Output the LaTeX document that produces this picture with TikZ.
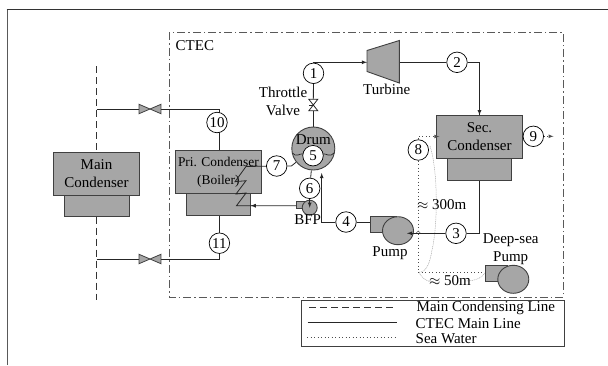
\documentclass[tikz,border=0pt]{standalone}
\usepackage{amsmath}
\usepackage{fontspec}
\setmainfont{Liberation Serif}
\usetikzlibrary{arrows}
\usetikzlibrary{backgrounds}
\usetikzlibrary{shapes.geometric}
\usetikzlibrary{decorations.markings}
\usepackage{color}
\definecolor{boxgray}{gray}{0.65}
\definecolor{edgegray}{gray}{0.25}
\tikzstyle{every node}=[inner sep=0pt, font=\fontsize{15}{18}\selectfont, align=center]
\tikzset{boxnode/.style={rectangle, draw=edgegray, fill=boxgray, line width=0.9pt}}
\tikzset{pumpnode/.style={ellipse, draw=edgegray, fill=boxgray, line width=0.9pt}}
\tikzset{numnode/.style={circle, draw=black, fill=white, minimum size=20.5pt, line width=0.7pt}}
\tikzset{ctecline/.style={line width=0.8pt, black!85}}
\tikzset{mainline/.style={line width=0.7pt, black!80, dash pattern=on 7pt off 4pt}}
\tikzset{sealine/.style={line width=0.7pt, black!70, dash pattern=on 1pt off 2.5pt}}
\tikzset{rangeline/.style={line width=0.5pt, black!35, dash pattern=on 1pt off 0.8pt}}
\tikzset{->-/.style={decoration={
      markings,
      mark=at position .3 with {\arrow{latex}}},postaction={decorate}}}
\newcommand{\valvetie}[1]{(#1.south west) -- (#1.north west) -- (#1.south east) -- (#1.north east) -- cycle}

\begin{document}
\begin{tikzpicture}[x=1pt,y=-1pt]
		\useasboundingbox (0,0) rectangle (608,365);
		\draw[line width=1pt, black!65] (7,365) -- (7,9);
		\draw[line width=1pt, black!80] (6.5,9) -- (608,9);
		\draw[line width=0.8pt, black!65, dash pattern=on 8pt off 3pt on 1.5pt off 3pt] (169,32) rectangle (563,297);
		\node[anchor=west] (ctec) at (175.5,45.5) {CTEC};
		% condensers
		\node[boxnode, minimum width=65pt, minimum height=21.5pt] (mainlow) at (96.5,205.5) {};
		\node[boxnode, minimum width=86pt, minimum height=43pt] (maincond) at (96.5,173.5) {Main\\Condenser};
		\node[boxnode, minimum width=64pt, minimum height=22pt] (prilow) at (218.7,204) {};
		\node[boxnode, minimum width=85.5pt, minimum height=42.5pt, font=\fontsize{13.4}{18}\selectfont] (pri) at (218.4,172) {Pri. Condenser\\(Boiler)};
		\node[boxnode, minimum width=64.5pt, minimum height=21.5pt] (seclow) at (479.5,169.5) {};
		\node[boxnode, minimum width=85.5pt, minimum height=42.5pt] (sec) at (479.5,137) {Sec.\\Condenser};
		% drum and turbine
		\node[circle, draw=edgegray, fill=boxgray, line width=0.9pt, minimum size=43pt] (drum) at (313.3,148.5) {};
		\node (drumtxt) at (313.3,139.5) {Drum};
		\draw[line width=0.7pt, black!85] (292.5,153) .. controls (296,158) and (300,153) .. (303,154) .. controls (307,157) and (319,157) .. (323,154) .. controls (326,153) and (330,158) .. (334,153);
		\coordinate (turbinl) at (367,62.3);
		\coordinate (turbinr) at (399,62.3);
		\draw[draw=edgegray, fill=boxgray, line width=0.9pt] (367,50.5) -- (399.3,40.5) -- (399.3,83) -- (367,71.5) -- cycle;
		\node (turbtxt) at (386.7,89.5) {Turbine};
		% pumps
		\draw[draw=edgegray, fill=boxgray, line width=0.9pt] (370,216.7) rectangle (396,232);
		\node[pumpnode, minimum width=31pt, minimum height=28pt] (pump) at (398,230.7) {};
		\node (pumptxt) at (390,253) {Pump};
		\draw[draw=edgegray, fill=boxgray, line width=0.9pt] (485.7,265.7) rectangle (507,281.3);
		\node[pumpnode, minimum width=31pt, minimum height=28pt] (deeppump) at (513.3,279.3) {};
		\node (deeptxt) at (510.7,249) {Deep-sea\\Pump};
		\draw[draw=edgegray, fill=boxgray, line width=0.9pt] (296.3,201) rectangle (305,208.7);
		\node[pumpnode, minimum width=15pt, minimum height=15pt] (bfp) at (309.7,207.7) {};
		\node (bfptxt) at (307.7,220) {BFP};
		% numbered points
		\node[numnode] (n1) at (313.5,73.3) {1};
		\node[numnode] (n2) at (457,62.3) {2};
		\node[numnode] (n3) at (456,233.3) {3};
		\node[numnode] (n4) at (346,222) {4};
		\node[numnode] (n5) at (313,155.7) {5};
		\node[numnode] (n6) at (309.7,188.3) {6};
		\node[numnode] (n7) at (276.7,166) {7};
		\node[numnode] (n8) at (418.3,150) {8};
		\node[numnode] (n9) at (533.3,136.3) {9};
		\node[numnode] (n10) at (217,122.5) {10};
		\node[numnode] (n11) at (219.4,243.2) {11};
		% valves
		\node[minimum width=21.5pt, minimum height=9pt] (valvetop) at (150,109) {};
		\node[minimum width=21.5pt, minimum height=9pt] (valvebot) at (150,259) {};
		\draw[draw=edgegray, fill=boxgray, line width=0.8pt] \valvetie{valvetop};
		\draw[draw=edgegray, fill=boxgray, line width=0.8pt] \valvetie{valvebot};
		\node[minimum width=8.5pt, minimum height=11pt] (throttle) at (313.3,105) {};
		\draw[line width=0.8pt, black!85, fill=white] (throttle.north west) -- (throttle.north east) -- (throttle.south west) -- (throttle.south east) -- cycle;
		\draw[line width=0.8pt, black!85] (throttle.center) -- (throttle.west);
		\node (throttletxt) at (283,101) {Throttle\\Valve};
		% pipe corners
		\coordinate (maintop) at (96.5,66);
		\coordinate (mainbot) at (96.5,300);
		\coordinate (jointop) at (96.5,109);
		\coordinate (joinbot) at (96.5,259);
		\coordinate (pritop) at (219.4,109);
		\coordinate (pribot) at (219.4,259);
		\coordinate (topcorner) at (313.5,62.3);
		\coordinate (seccorner) at (479.5,62.3);
		\coordinate (lowcorner) at (479.5,233.3);
		\coordinate (feedcorner) at (321.7,222);
		\coordinate (feedend) at (321.7,173);
		\coordinate (coiltop) at (246,166.5);
		\coordinate (bfpbox) at (296.3,205.7);
		\coordinate (seatop) at (418.3,136.5);
		\coordinate (seabot) at (418.3,272.3);
		\coordinate (seaout) at (553.5,136.3);
		\begin{scope}[on background layer]
		\draw[mainline] (maintop) -- (maincond);
		\draw[mainline] (mainlow) -- (mainbot);
		\draw[ctecline] (jointop) -- (valvetop);
		\draw[ctecline] (valvetop) -- (pritop) -- (pri.north -| pritop);
		\draw[ctecline] (joinbot) -- (valvebot);
		\draw[ctecline] (valvebot) -- (pribot) -- (prilow.south -| pribot);
		\draw[ctecline] (n7) -- (n7 -| drum.west) -- (drum);
		\draw[ctecline] (drum) -- (n6);
		\draw[ctecline] (drum) -- (throttle);
		\draw[ctecline] (throttle) -- (n1);
		\draw[ctecline] (seclow.south -| lowcorner) -- (lowcorner) -- (n3);
		\draw[ctecline] (turbinr) -- (n2);
		\draw[ctecline] (n2) -- (seccorner) -- (sec.north -| seccorner);
		\draw[ctecline] (n4) -- (pump.west |- n4);
		\draw[rangeline] (430,146) .. controls (438,170) and (438,225) .. (432,250) .. controls (430,262) and (427,272) .. (419,272.3);
		\draw[rangeline] (419,272.3) .. controls (423,281) and (432,283) .. (440,283);
		\draw[rangeline] (465,281) .. controls (475,281) and (482,278) .. (486,272);
		\draw[sealine] (n8) -- (seabot);
		\draw[sealine] (seabot) -- (deeppump.west |- seabot);
		\draw[line width=0.5pt, black!60] (416.3,233) -- (418.3,231) -- (420.3,233);
		\end{scope}
		% arrows on top
		\draw[ctecline, -latex] (n1) -- (topcorner) -- (turbinl);
		\draw[ctecline, -latex] (n2 -| seccorner) -- (sec.north -| seccorner);
		\draw[ctecline, -latex] (n3) -- (407,233.3);
		\draw[ctecline, -latex] (n6) -- (bfp.center);
		\draw[ctecline, -latex] (n4) -- (feedcorner) -- (feedend);
		\draw[ctecline, ->-] (bfpbox) -- (236.5,205.7) -- (246,193) -- (236,194) -- (246,180.7) -- (235,181.7) -- (coiltop) -- (n7);
		\draw[sealine, -latex] (n8) -- (seatop) -- (sec.west |- seatop) -- ++(3,0);
		\draw[sealine] (sec.east |- n9) -- (n9);
		\draw[sealine, -latex] (n9) -- (seaout);
		% distances
		\node (dist300) at (441.7,205) {$\approx$ 300m};
		\node (dist50) at (450,280.7) {$\approx$ 50m};
		% legend
		\node[draw=edgegray, line width=0.9pt, minimum width=263pt, minimum height=46.5pt, fill=white] (legend) at (432.5,323.5) {};
		\coordinate (dashl) at (309,307.7);
		\coordinate (dashr) at (393,307.7);
		\coordinate (solidl) at (307.5,322.5);
		\coordinate (solidr) at (397,322.5);
		\coordinate (dotl) at (307,337);
		\coordinate (dotr) at (396,337);
		\draw[mainline] (dashl) -- (dashr);
		\draw[ctecline] (solidl) -- (solidr);
		\draw[sealine] (dotl) -- (dotr);
		\node[anchor=west] (legmain) at (416.5,308) {Main Condensing Line};
		\node[anchor=west] (legctec) at (415.5,323.5) {CTEC Main Line};
		\node[anchor=west] (legsea) at (415.5,338.5) {Sea Water};
\end{tikzpicture}
\end{document}
